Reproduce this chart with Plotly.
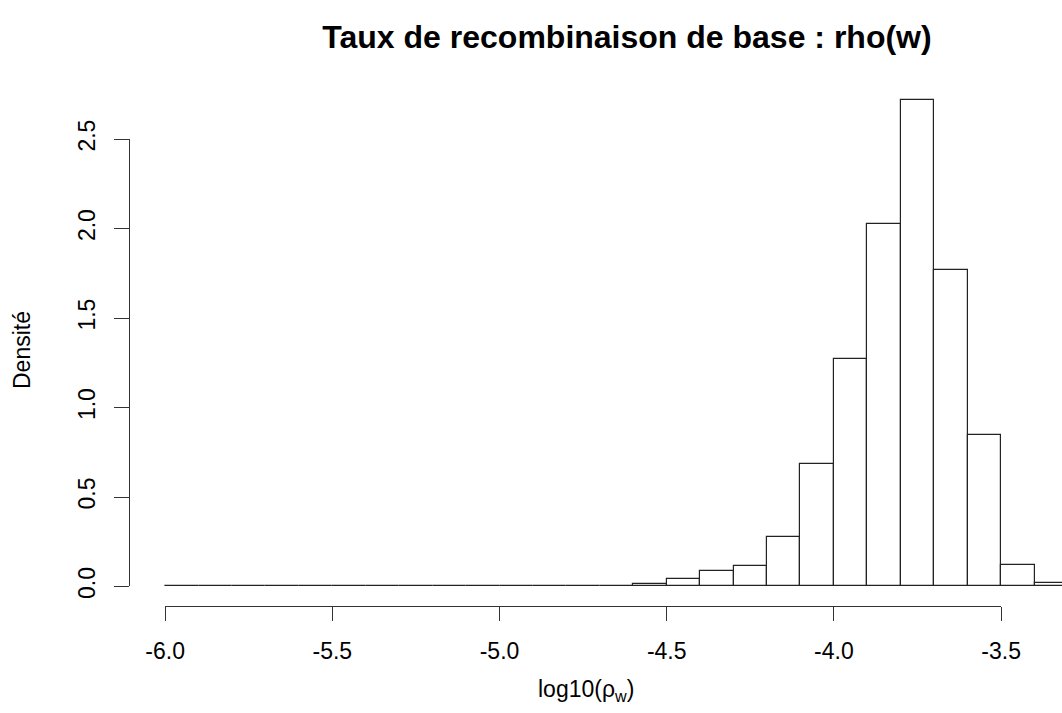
import plotly.graph_objects as go

# histogram of log10(rho_w), bins of width 0.1 (left edges)
bin_left = [-6.0, -5.9, -5.8, -5.7, -5.6, -5.5, -5.4, -5.3, -5.2, -5.1,
            -5.0, -4.9, -4.8, -4.7, -4.6, -4.5, -4.4, -4.3, -4.2, -4.1,
            -4.0, -3.9, -3.8, -3.7, -3.6, -3.5, -3.4]
density = [0.001, 0.001, 0.001, 0.001, 0.001, 0.001, 0.004, 0.004, 0.001, 0.002,
           0.003, 0.004, 0.005, 0.005, 0.013, 0.044, 0.089, 0.114, 0.276, 0.683,
           1.272, 2.024, 2.721, 1.771, 0.845, 0.121, 0.017]
bin_width = 0.1

x_ticks = [-6.0, -5.5, -5.0, -4.5, -4.0, -3.5]
x_labels = ["-6.0", "-5.5", "-5.0", "-4.5", "-4.0", "-3.5"]
y_ticks = [0.0, 0.5, 1.0, 1.5, 2.0, 2.5]
y_labels = ["0.0", "0.5", "1.0", "1.5", "2.0", "2.5"]

# R style: 4% padding around the data, image cut on the right
x_min, x_max = -6.108, -3.318
y_min, y_max = -0.109, 2.83

FONT = "Liberation Sans, Arial, sans-serif"


def frac(v, lo, hi):
    return (v - lo) / (hi - lo)


centers = [b + bin_width / 2 for b in bin_left]

fig = go.Figure()
fig.add_trace(go.Bar(x=centers, y=density, width=bin_width,
                     marker=dict(color="white", line=dict(color="#222222", width=1.2)),
                     hoverinfo="x+y", showlegend=False))
# invisible trace to hold the detached R-like axes
fig.add_trace(go.Scatter(x=[x_ticks[0], x_ticks[-1]], y=[y_ticks[0], y_ticks[-1]],
                         xaxis="x2", yaxis="y2", mode="lines",
                         line=dict(width=0), hoverinfo="skip", showlegend=False))

axis_font = dict(family=FONT, size=23, color="black")

fig.update_layout(
    width=1062, height=713,
    margin=dict(l=129, r=0, t=80, b=107, autoexpand=False),
    paper_bgcolor="white", plot_bgcolor="rgba(0,0,0,0)",
    bargap=0,
    xaxis=dict(range=[x_min, x_max], visible=False, fixedrange=True),
    yaxis=dict(range=[y_min, y_max], visible=False, fixedrange=True),
    xaxis2=dict(range=[x_ticks[0], x_ticks[-1]],
                domain=[frac(x_ticks[0], x_min, x_max), frac(x_ticks[-1], x_min, x_max)],
                anchor="free", position=0,
                tickvals=x_ticks, ticktext=x_labels,
                showline=True, linecolor="#333333", linewidth=1.2,
                ticks="outside", ticklen=14, tickwidth=1.2, tickcolor="#333333",
                ticklabelstandoff=10, automargin=False,
                showgrid=False, zeroline=False, tickfont=axis_font),
    yaxis2=dict(range=[y_ticks[0], y_ticks[-1]],
                domain=[frac(y_ticks[0], y_min, y_max), frac(y_ticks[-1], y_min, y_max)],
                anchor="free", position=0,
                tickvals=y_ticks, ticktext=y_labels, tickangle=-90,
                showline=True, linecolor="#333333", linewidth=1.2,
                ticks="outside", ticklen=15, tickwidth=1.2, tickcolor="#333333",
                ticklabelstandoff=10, automargin=False,
                showgrid=False, zeroline=False, tickfont=axis_font),
    title=dict(text="<b>Taux de recombinaison de base : rho(w)</b>",
               x=627 / 1062, xanchor="center", y=1 - 37 / 713, yanchor="middle",
               font=dict(family=FONT, size=32, color="black")),
    annotations=[
        dict(text="log10(\u03c1<sub>w</sub>)", xref="paper", yref="paper",
             x=frac(586, 129, 1062), y=-(690 - 606) / (606 - 80),
             xanchor="center", yanchor="middle", showarrow=False,
             font=dict(family=FONT, size=23, color="black")),
        dict(text="Densit\u00e9", xref="paper", yref="paper", textangle=-90,
             x=-(129 - 22) / (1062 - 129), y=1 - (350 - 80) / (606 - 80),
             xanchor="center", yanchor="middle", showarrow=False,
             font=dict(family=FONT, size=23, color="black")),
    ],
)

# drop the default page margin so the figure sits at the window corner
fig.write_html("out.html", config={"displayModeBar": False},
               post_script="document.body.style.margin='0';")
